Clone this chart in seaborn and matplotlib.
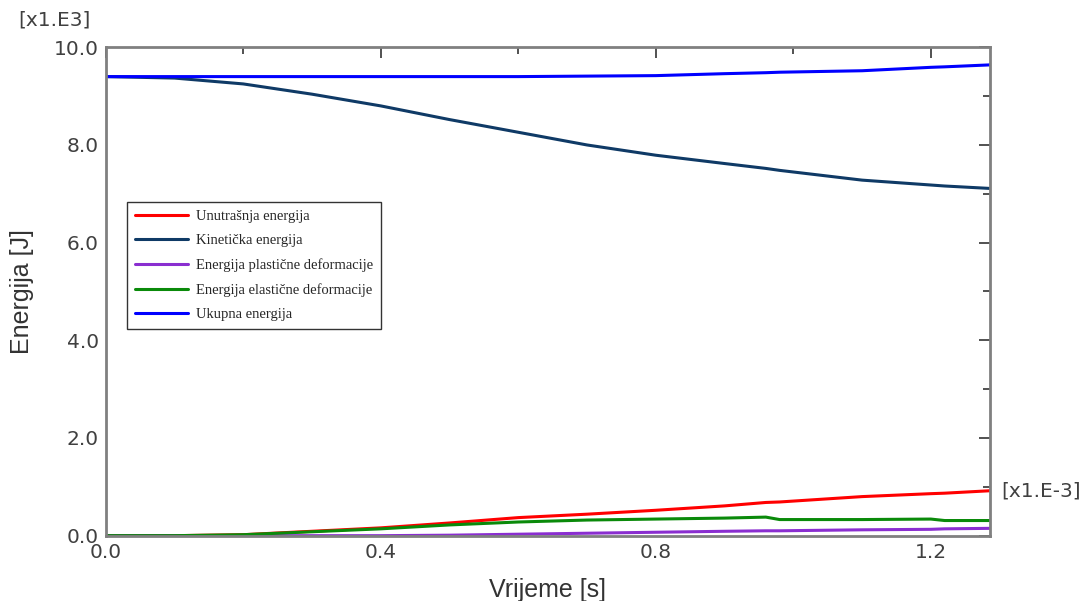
import matplotlib
matplotlib.use("Agg")
import matplotlib.pyplot as plt
from matplotlib.ticker import MultipleLocator, FormatStrFormatter
import numpy as np
import pandas as pd
import seaborn as sns

# time in units of 1e-3 s, energies in units of 1e3 J
TIME = [0.0, 0.1, 0.2, 0.3, 0.4, 0.5, 0.6, 0.7, 0.8, 0.9, 0.96, 0.98, 1.1, 1.2, 1.22, 1.286]
INTERNAL = [0.0, 0.0, 0.02, 0.09, 0.16, 0.26, 0.37, 0.44, 0.52, 0.61, 0.68, 0.69, 0.80, 0.86, 0.87, 0.92]
KINETIC = [9.40, 9.37, 9.25, 9.04, 8.80, 8.52, 8.26, 8.00, 7.79, 7.62, 7.52, 7.48, 7.28, 7.18, 7.16, 7.11]
PLASTIC = [0.0, 0.0, 0.0, 0.0, 0.0, 0.01, 0.03, 0.05, 0.07, 0.09, 0.10, 0.10, 0.12, 0.13, 0.14, 0.15]
ELASTIC = [0.0, 0.0, 0.02, 0.08, 0.14, 0.22, 0.28, 0.32, 0.34, 0.36, 0.38, 0.33, 0.33, 0.34, 0.31, 0.31]
TOTAL = [9.40, 9.40, 9.40, 9.40, 9.40, 9.40, 9.40, 9.41, 9.42, 9.46, 9.48, 9.49, 9.52, 9.59, 9.60, 9.64]

SERIES = [
    ("Unutrašnja energija", INTERNAL, "#ff0000"),
    ("Kinetička energija", KINETIC, "#0f3a66"),
    ("Energija plastične deformacije", PLASTIC, "#8a2ed0"),
    ("Energija elastične deformacije", ELASTIC, "#0a8a0a"),
    ("Ukupna energija", TOTAL, "#0000ff"),
]

sns.set_theme(style="white")
plt.rcParams["font.family"] = ["DejaVu Sans"]

fig = plt.figure(figsize=(10.89, 6.01), dpi=100)
ax = fig.add_axes([0.0971, 0.1087, 0.9091 - 0.0971, 0.9213 - 0.1087])

for label, values, color in SERIES:
    df = pd.DataFrame({"t": TIME, "e": values})
    sns.lineplot(data=df, x="t", y="e", ax=ax, color=color, linewidth=2.2, label=label)

ax.set_xlim(0, 1.286)
ax.set_ylim(0, 10.0)
ax.xaxis.set_major_locator(MultipleLocator(0.4))
ax.xaxis.set_minor_locator(MultipleLocator(0.2))
ax.yaxis.set_major_locator(MultipleLocator(2.0))
ax.yaxis.set_minor_locator(MultipleLocator(1.0))
ax.xaxis.set_major_formatter(FormatStrFormatter("%.1f"))
ax.yaxis.set_major_formatter(FormatStrFormatter("%.1f"))
ax.tick_params(which="both", direction="in", top=True, right=True, color="#333333")
ax.tick_params(which="major", length=8, width=1.2, labelsize=14.5, labelcolor="#404040")
ax.tick_params(axis="x", which="major", pad=5)
ax.tick_params(axis="y", which="major", pad=5)
ax.tick_params(which="minor", length=5, width=1.2)
for s in ax.spines.values():
    s.set_color("#808080")
    s.set_linewidth(2)

label_font = dict(family=["Liberation Sans Narrow", "Liberation Sans"], size=18, color="#333333")
ax.set_xlabel("Vrijeme [s]", labelpad=12, **label_font)
ax.set_ylabel("Energija [J]", labelpad=14, **label_font)

fig.text(18 / 1089, 1 - 20 / 601, "[x1.E3]", fontsize=14.5, color="#404040", va="center", ha="left")
fig.text(1001 / 1089, 1 - 491 / 601, "[x1.E-3]", fontsize=14.5, color="#404040", va="center", ha="left")

leg = ax.legend(
    loc="upper left",
    bbox_to_anchor=((127 - 105.7) / 884.3, (535.7 - 202) / 488.4),
    prop={"family": "Liberation Serif", "size": 10.5},
    frameon=True,
    fancybox=False,
    edgecolor="black",
    handlelength=3.6,
    handletextpad=0.6,
    labelspacing=0.75,
    borderpad=0.55,
    borderaxespad=0,
)
leg.get_frame().set_linewidth(1.0)

fig.savefig("out.png", dpi=100)
